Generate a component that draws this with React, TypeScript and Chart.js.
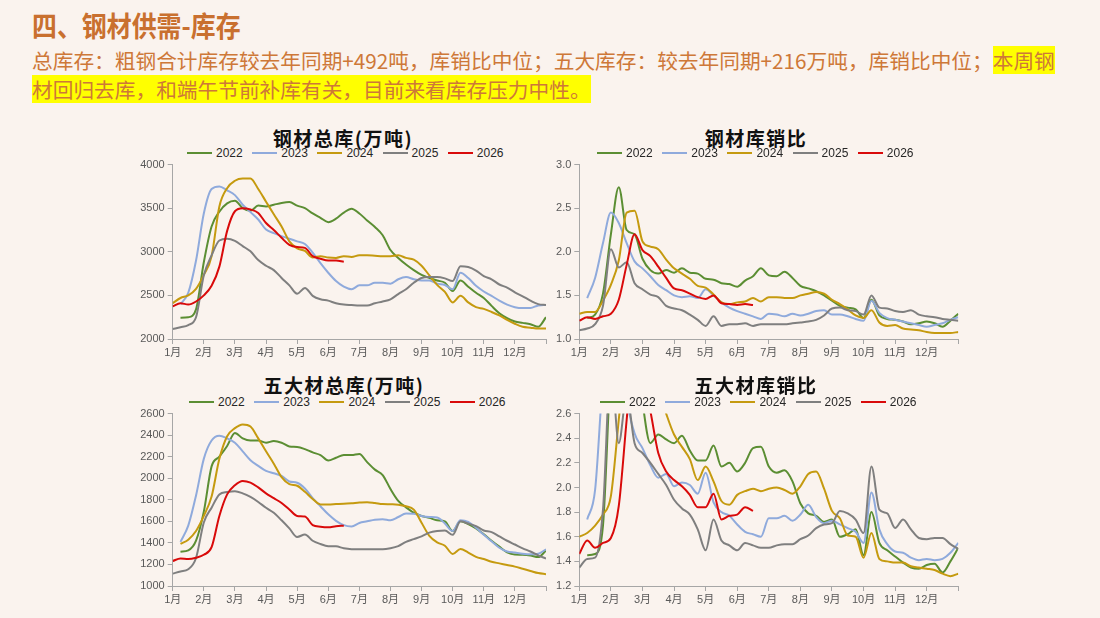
import React, { useEffect, useRef } from 'react';
import { Chart, registerables } from 'chart.js';

Chart.register(...registerables);

// ---------- data ----------
const MONTH_LABELS = ['1月', '2月', '3月', '4月', '5月', '6月', '7月', '8月', '9月', '10月', '11月', '12月'];
const YEARS = ['2022', '2023', '2024', '2025', '2026'];
const COLORS = ['#5B8E33', '#8FAADC', '#C59A0F', '#7F7F7F', '#D90A0A'];
const STEP = 0.25; // months between points (weekly-ish sampling)

// 钢材总库(万吨)
const total2022 = [null, 2245, 2250, 2340, 2880, 3290, 3460, 3555, 3585, 3500, 3470, 3530, 3520, 3540, 3560, 3570, 3530, 3500, 3440, 3390, 3340, 3380, 3450, 3495, 3440, 3360, 3285, 3190, 3020, 2930, 2855, 2790, 2735, 2700, 2670, 2645, 2550, 2670, 2600, 2530, 2470, 2380, 2295, 2240, 2200, 2185, 2170, 2140, 2250];
const total2023 = [null, 2400, 2530, 2900, 3440, 3720, 3750, 3705, 3650, 3540, 3455, 3370, 3255, 3215, 3180, 3150, 3120, 3090, 2990, 2870, 2760, 2665, 2600, 2570, 2615, 2615, 2645, 2645, 2635, 2685, 2710, 2685, 2670, 2670, 2635, 2620, 2570, 2760, 2700, 2610, 2545, 2495, 2440, 2395, 2365, 2355, 2355, 2385, 2390];
const total2024 = [2410, 2470, 2500, 2575, 2735, 2950, 3520, 3730, 3815, 3840, 3840, 3720, 3575, 3430, 3290, 3120, 3040, 3010, 2935, 2950, 2935, 2930, 2950, 2940, 2960, 2960, 2955, 2950, 2950, 2960, 2930, 2910, 2840, 2730, 2620, 2540, 2420, 2495, 2420, 2365, 2345, 2310, 2270, 2220, 2175, 2140, 2130, 2120, 2120];
const total2025 = [2115, 2135, 2160, 2250, 2730, 2960, 3130, 3150, 3125, 3065, 3005, 2905, 2840, 2790, 2700, 2615, 2520, 2585, 2495, 2455, 2440, 2410, 2395, 2390, 2385, 2385, 2410, 2430, 2455, 2515, 2570, 2645, 2700, 2710, 2710, 2695, 2665, 2835, 2825, 2785, 2720, 2685, 2625, 2590, 2535, 2490, 2440, 2400, 2390];
const total2026 = [2375, 2410, 2395, 2430, 2500, 2610, 2830, 3240, 3465, 3500, 3485, 3445, 3330, 3250, 3160, 3080, 3055, 3045, 2950, 2920, 2900, 2900, 2885];

// 钢材库销比
const ratio2022 = [null, 1.24, 1.28, 1.52, 2.20, 2.74, 2.25, 2.20, 1.92, 1.79, 1.75, 1.79, 1.76, 1.81, 1.76, 1.75, 1.69, 1.68, 1.64, 1.63, 1.60, 1.67, 1.72, 1.81, 1.73, 1.72, 1.77, 1.70, 1.61, 1.58, 1.55, 1.50, 1.44, 1.38, 1.36, 1.34, 1.24, 1.45, 1.27, 1.23, 1.22, 1.20, 1.17, 1.18, 1.20, 1.18, 1.14, 1.21, 1.29];
const ratio2023 = [null, 1.47, 1.70, 2.10, 2.45, 2.33, 2.10, 1.89, 1.81, 1.72, 1.62, 1.56, 1.50, 1.48, 1.49, 1.47, 1.57, 1.50, 1.42, 1.36, 1.32, 1.29, 1.26, 1.23, 1.29, 1.28, 1.26, 1.29, 1.27, 1.29, 1.32, 1.33, 1.28, 1.28, 1.26, 1.23, 1.21, 1.44, 1.30, 1.24, 1.22, 1.20, 1.18, 1.16, 1.14, 1.16, 1.18, 1.22, 1.25];
const ratio2024 = [1.29, 1.31, 1.31, 1.44, 1.62, 1.90, 2.45, 2.47, 2.12, 2.06, 2.03, 1.91, 1.81, 1.75, 1.69, 1.61, 1.59, 1.51, 1.42, 1.40, 1.42, 1.43, 1.47, 1.43, 1.48, 1.48, 1.47, 1.47, 1.50, 1.52, 1.54, 1.52, 1.45, 1.40, 1.34, 1.27, 1.24, 1.33, 1.19, 1.15, 1.16, 1.12, 1.11, 1.10, 1.08, 1.07, 1.07, 1.07, 1.08];
const ratio2025 = [1.10, 1.12, 1.17, 1.38, 2.03, 1.82, 1.88, 1.64, 1.57, 1.51, 1.48, 1.38, 1.35, 1.33, 1.28, 1.22, 1.15, 1.26, 1.15, 1.17, 1.17, 1.18, 1.15, 1.17, 1.17, 1.17, 1.17, 1.18, 1.19, 1.20, 1.22, 1.27, 1.35, 1.36, 1.33, 1.32, 1.28, 1.50, 1.36, 1.35, 1.32, 1.31, 1.33, 1.28, 1.26, 1.25, 1.23, 1.22, 1.21];
const ratio2026 = [1.21, 1.25, 1.23, 1.26, 1.29, 1.45, 1.85, 2.20, 2.02, 1.95, 1.83, 1.70, 1.58, 1.56, 1.52, 1.48, 1.46, 1.50, 1.41, 1.40, 1.39, 1.40, 1.39];

// 五大材总库(万吨)
const five2022 = [null, 1318, 1330, 1420, 1690, 2110, 2200, 2300, 2420, 2370, 2350, 2350, 2330, 2345, 2330, 2295, 2290, 2270, 2240, 2215, 2165, 2190, 2215, 2215, 2225, 2150, 2080, 2030, 1900, 1790, 1730, 1680, 1650, 1632, 1610, 1600, 1510, 1600, 1575, 1535, 1480, 1420, 1365, 1313, 1292, 1290, 1283, 1268, 1329];
const five2023 = [null, 1410, 1560, 1840, 2180, 2350, 2395, 2370, 2330, 2250, 2168, 2115, 2068, 2046, 2022, 1970, 1958, 1905, 1815, 1740, 1665, 1605, 1565, 1552, 1585, 1600, 1615, 1620, 1610, 1640, 1672, 1670, 1650, 1640, 1635, 1580, 1510, 1610, 1595, 1540, 1475, 1415, 1355, 1320, 1310, 1300, 1295, 1300, 1340];
const five2024 = [null, 1390, 1430, 1510, 1650, 1830, 2180, 2390, 2465, 2500, 2480, 2370, 2250, 2135, 2010, 1945, 1930, 1875, 1808, 1757, 1757, 1760, 1763, 1768, 1774, 1778, 1770, 1760, 1758, 1755, 1740, 1709, 1587, 1465, 1405, 1374, 1298, 1344, 1310, 1270, 1250, 1225, 1210, 1195, 1180, 1160, 1140, 1120, 1110];
const five2025 = [1115, 1135, 1155, 1260, 1590, 1727, 1850, 1872, 1880, 1860, 1826, 1780, 1726, 1680, 1610, 1535, 1455, 1478, 1420, 1390, 1370, 1368, 1350, 1342, 1341, 1340, 1340, 1340, 1350, 1370, 1410, 1435, 1460, 1495, 1510, 1515, 1475, 1600, 1580, 1555, 1515, 1500, 1460, 1420, 1385, 1350, 1320, 1285, 1255];
const five2026 = [1232, 1255, 1250, 1262, 1290, 1360, 1650, 1850, 1935, 1975, 1960, 1915, 1860, 1815, 1770, 1710, 1650, 1645, 1565, 1550, 1545, 1555, 1560];

// 五大材库销比
const fiveRatio2022 = [null, 1.45, 1.46, 1.69, 3.0, 3.5, 3.6, 3.3, 2.7, 2.36, 2.43, 2.39, 2.36, 2.42, 2.30, 2.22, 2.22, 2.34, 2.17, 2.20, 2.13, 2.20, 2.32, 2.33, 2.17, 2.12, 2.14, 2.05, 1.87, 1.79, 1.77, 1.72, 1.74, 1.60, 1.62, 1.66, 1.45, 1.80, 1.55, 1.49, 1.44, 1.39, 1.35, 1.34, 1.37, 1.38, 1.31, 1.40, 1.51];
const fiveRatio2023 = [null, 1.74, 1.98, 2.9, 3.5, 3.6, 2.75, 2.44, 2.32, 2.18, 2.08, 2.11, 2.01, 2.04, 2.02, 1.95, 2.12, 1.88, 1.80, 1.77, 1.70, 1.64, 1.62, 1.60, 1.75, 1.75, 1.77, 1.73, 1.78, 1.86, 1.76, 1.71, 1.73, 1.70, 1.67, 1.64, 1.55, 1.96, 1.66, 1.54, 1.48, 1.47, 1.43, 1.41, 1.42, 1.41, 1.42, 1.47, 1.55];
const fiveRatio2024 = [1.60, 1.63, 1.69, 1.78, 1.93, 2.55, 3.2, 3.5, 3.3, 3.0, 2.8, 2.60, 2.43, 2.33, 2.23, 2.06, 2.17, 2.05, 1.89, 1.86, 1.94, 1.97, 1.99, 1.97, 1.99, 2.00, 1.98, 1.95, 2.01, 2.11, 2.13, 1.99, 1.81, 1.75, 1.61, 1.60, 1.43, 1.63, 1.42, 1.40, 1.39, 1.39, 1.36, 1.35, 1.34, 1.33, 1.30, 1.28, 1.30];
const fiveRatio2025 = [1.35, 1.42, 1.43, 1.82, 3.0, 2.36, 2.75, 2.36, 2.28, 2.20, 2.11, 2.02, 1.90, 1.83, 1.78, 1.66, 1.49, 1.74, 1.57, 1.53, 1.49, 1.55, 1.53, 1.51, 1.51, 1.53, 1.54, 1.54, 1.58, 1.61, 1.67, 1.70, 1.71, 1.81, 1.79, 1.74, 1.63, 2.17, 1.82, 1.79, 1.67, 1.74, 1.66, 1.59, 1.58, 1.59, 1.59, 1.54, 1.50];
const fiveRatio2026 = [1.46, 1.57, 1.51, 1.55, 1.59, 1.85, 2.55, 3.2, 2.9, 2.62, 2.28, 2.13, 2.06, 2.01, 1.94, 1.84, 1.84, 1.95, 1.74, 1.77, 1.78, 1.84, 1.81];

// ---------- styles ----------
const BG = '#FAF3EE';
const AXIS_COLOR = '#A6A6A6';
const TICK_FONT = { family: '"Liberation Sans", "Noto Sans CJK SC", sans-serif', size: 11 };
const TICK_COLOR = '#595959';

function toPoints(vals: (number | null)[]) {
  const out: { x: number; y: number }[] = [];
  vals.forEach((v, i) => {
    if (v !== null && v !== undefined) out.push({ x: i * STEP, y: v });
  });
  return out;
}

type PanelProps = {
  series: (number | null)[][];
  yMin: number;
  yMax: number;
  yStep: number;
  decimals: number;
  left: number;
  top: number;
  width: number;
  height: number;
  yAxisW: number;
  padTop: number;
  padRight: number;
  xAxisH: number;
};

function ChartPanel(p: PanelProps) {
  const ref = useRef<HTMLCanvasElement | null>(null);
  useEffect(() => {
    if (!ref.current) return;
    const datasets = p.series.map((vals, i) => ({
      label: YEARS[i],
      data: toPoints(vals),
      borderColor: COLORS[i],
      backgroundColor: COLORS[i],
      borderWidth: 2,
      pointRadius: 0,
      cubicInterpolationMode: 'monotone' as const,
      order: 4 - i,
    }));
    const chart = new Chart(ref.current, {
      type: 'line',
      data: { datasets },
      options: {
        animation: false,
        responsive: false,
        devicePixelRatio: 1,
        layout: { padding: { top: p.padTop, right: p.padRight, bottom: 0, left: 0 } },
        plugins: {
          legend: { display: false },
          title: { display: false },
          tooltip: { enabled: false },
        },
        scales: {
          x: {
            type: 'linear',
            min: 0,
            max: 12,
            ticks: {
              stepSize: 1,
              autoSkip: false,
              maxRotation: 0,
              padding: 2,
              font: TICK_FONT,
              color: TICK_COLOR,
              callback: (v: any) => {
                const k = Math.round(Number(v));
                return k < 12 ? MONTH_LABELS[k] : '';
              },
            },
            grid: { display: true, drawOnChartArea: false, drawTicks: true, tickLength: 5, color: AXIS_COLOR },
            border: { display: true, color: AXIS_COLOR },
            afterFit: (s: any) => {
              s.height = p.xAxisH;
            },
          },
          y: {
            type: 'linear',
            min: p.yMin,
            max: p.yMax,
            ticks: {
              stepSize: p.yStep,
              padding: 3,
              font: TICK_FONT,
              color: TICK_COLOR,
              callback: (v: any) => (p.decimals ? Number(v).toFixed(p.decimals) : String(Math.round(Number(v)))),
            },
            grid: { display: true, drawOnChartArea: false, drawTicks: true, tickLength: 5, color: AXIS_COLOR },
            border: { display: true, color: AXIS_COLOR },
            afterFit: (s: any) => {
              s.width = p.yAxisW;
            },
          },
        },
      } as any,
    });
    return () => chart.destroy();
  }, []);
  return (
    <canvas
      ref={ref}
      width={p.width}
      height={p.height}
      style={{ position: 'absolute', left: p.left, top: p.top, width: p.width, height: p.height }}
    />
  );
}

function Legend({ left, centerY }: { left: number; centerY: number }) {
  return (
    <div
      style={{
        position: 'absolute',
        left,
        top: centerY - 8,
        height: 16,
        display: 'flex',
        alignItems: 'center',
        whiteSpace: 'nowrap',
      }}
    >
      {YEARS.map((y, i) => (
        <div key={y} style={{ display: 'flex', alignItems: 'center', marginRight: i < YEARS.length - 1 ? 9.5 : 0 }}>
          <span style={{ display: 'inline-block', width: 25, height: 2, background: COLORS[i], marginRight: 4 }} />
          <span style={{ font: '12px "Liberation Sans", Arial, sans-serif', color: '#262626', lineHeight: '16px' }}>{y}</span>
        </div>
      ))}
    </div>
  );
}

function PanelTitle({ text, centerX, top }: { text: string; centerX: number; top: number }) {
  return (
    <div
      style={{
        position: 'absolute',
        left: centerX - 150,
        top,
        width: 300,
        textAlign: 'center',
        font: 'bold 19px "Noto Sans CJK SC", sans-serif',
        letterSpacing: '1.5px',
        lineHeight: '24px',
        color: '#111',
        whiteSpace: 'nowrap',
      }}
    >
      {text}
    </div>
  );
}

const HL: React.CSSProperties = { background: '#FFFF00', display: 'inline-block', lineHeight: '28px', height: 28 };

export default function App() {
  useEffect(() => {
    document.body.style.margin = '0';
    document.body.style.background = BG;
  }, []);
  const subStyle: React.CSSProperties = {
    position: 'absolute',
    left: 32,
    font: '20.7px "Noto Sans CJK SC", sans-serif',
    color: '#CE7838',
    lineHeight: '28px',
    height: 29,
    whiteSpace: 'nowrap',
  };
  return (
    <div style={{ position: 'absolute', left: 0, top: 0, width: 1100, height: 618, background: BG, overflow: 'hidden' }}>
      <div
        style={{
          position: 'absolute',
          left: 32,
          top: 8,
          font: 'bold 28px "Noto Sans CJK SC", sans-serif',
          lineHeight: '34px',
          color: '#C9702F',
          whiteSpace: 'nowrap',
          transform: 'scaleX(0.89)',
          transformOrigin: 'left center',
        }}
      >
        四、钢材供需-库存
      </div>
      <div style={{ ...subStyle, top: 46 }}>
        总库存：粗钢合计库存较去年同期+492吨，库销比中位；五大库存：较去年同期+216万吨，库销比中位；<span style={HL}>本周钢</span>
      </div>
      <div style={{ ...subStyle, top: 75 }}>
        <span style={HL}>材回归去库，和端午节前补库有关，目前来看库存压力中性。</span>
      </div>

      <PanelTitle text="钢材总库(万吨)" centerX={343} top={125.5} />
      <Legend left={187} centerY={153} />
      <ChartPanel
        series={[total2022, total2023, total2024, total2025, total2026]}
        yMin={2000} yMax={4000} yStep={500} decimals={0}
        left={125} top={155} width={430} height={210}
        yAxisW={47.7} padTop={6.7} padRight={9} xAxisH={26}
      />

      <PanelTitle text="钢材库销比" centerX={756} top={125.5} />
      <Legend left={597} centerY={153} />
      <ChartPanel
        series={[ratio2022, ratio2023, ratio2024, ratio2025, ratio2026]}
        yMin={1.0} yMax={3.0} yStep={0.5} decimals={1}
        left={532} top={155} width={436} height={210}
        yAxisW={47.3} padTop={6.7} padRight={9.7} xAxisH={26}
      />

      <PanelTitle text="五大材总库(万吨)" centerX={344} top={372.5} />
      <Legend left={189} centerY={402} />
      <ChartPanel
        series={[five2022, five2023, five2024, five2025, five2026]}
        yMin={1000} yMax={2600} yStep={200} decimals={0}
        left={125} top={404} width={430} height={208}
        yAxisW={47.7} padTop={6.7} padRight={9} xAxisH={26}
      />

      <PanelTitle text="五大材库销比" centerX={756} top={372.5} />
      <Legend left={600} centerY={402} />
      <ChartPanel
        series={[fiveRatio2022, fiveRatio2023, fiveRatio2024, fiveRatio2025, fiveRatio2026]}
        yMin={1.2} yMax={2.6} yStep={0.2} decimals={1}
        left={532} top={404} width={436} height={208}
        yAxisW={47.3} padTop={7} padRight={9.7} xAxisH={26}
      />
    </div>
  );
}
